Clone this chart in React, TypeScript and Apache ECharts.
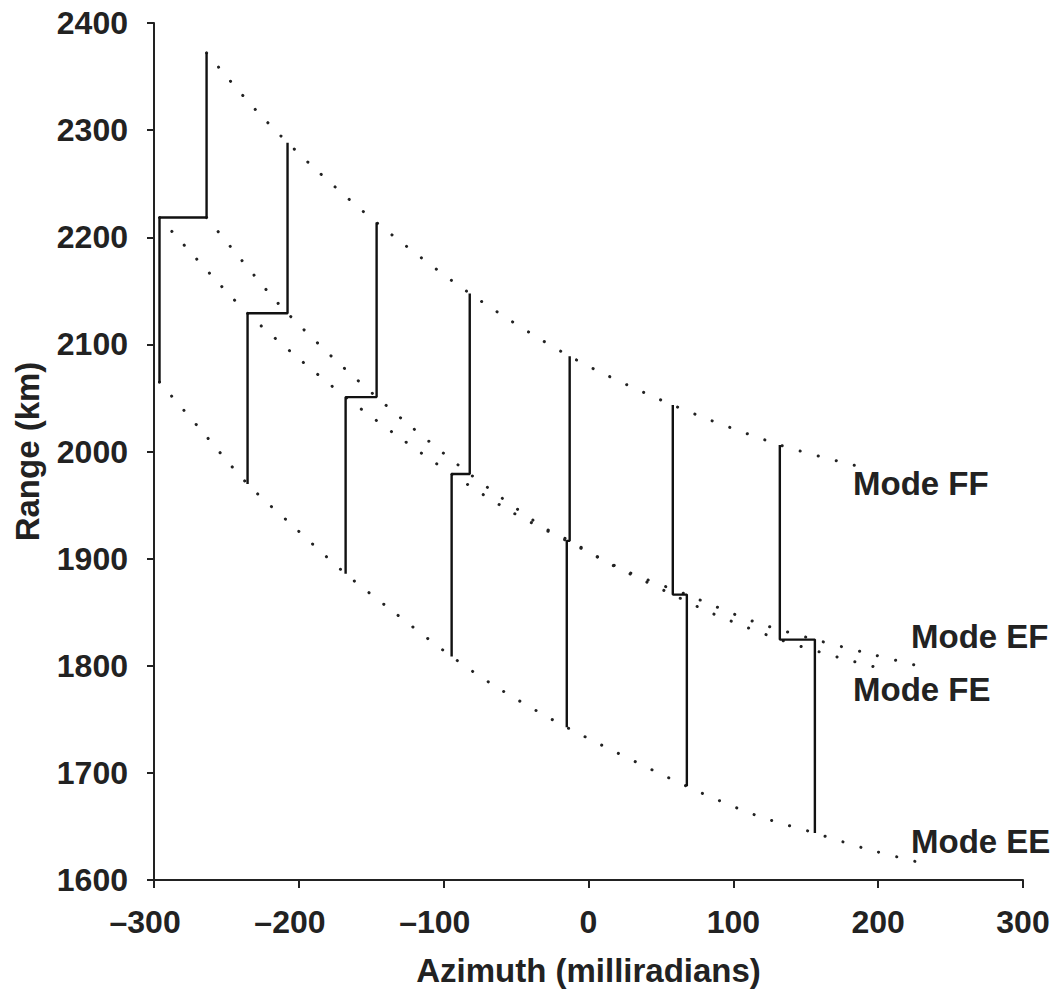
import React, { useEffect, useRef } from "react";
import * as echarts from "echarts";

// Azimuth axis ticks (milliradians) and range axis ticks (km)
const azimuthTicks = [-300, -200, -100, 0, 100, 200, 300];
const rangeTicks = [1600, 1700, 1800, 1900, 2000, 2100, 2200, 2300, 2400];

// Mode FF (dotted)
const ffAz = [-263.7, -229.2, -191.9, -146.3, -82.0, -13.0, 58.2, 132.1, 185.3];
const ffRange = [2372.1, 2318.0, 2267.8, 2213.7, 2147.6, 2088.9, 2043.3, 2006.1, 1986.5];

// Mode EF (dotted)
const efAz = [-296.2, -260.3, -235.4, -203.6, -167.7, -131.8, -94.5, -54.4, -15.0, 27.1, 67.9, 114.2, 156.3, 190.8, 229.5];
const efRange = [2218.4, 2164.4, 2129.0, 2090.8, 2050.8, 2014.4, 1979.0, 1944.6, 1916.6, 1887.8, 1866.4, 1841.2, 1824.4, 1812.3, 1799.3];

// Mode FE (dotted)
const feAz = [-263.7, -221.6, -207.8, -175.3, -146.3, -126.3, -82.0, -31.6, -13.0, 14.7, 58.2, 85.8, 132.1, 172.9, 199.1];
const feRange = [2218.4, 2149.5, 2129.0, 2086.1, 2050.8, 2027.5, 1979.0, 1929.7, 1916.6, 1895.2, 1866.4, 1848.7, 1824.4, 1807.7, 1798.4];

// Mode EE (dotted)
const eeAz = [-296.2, -269.9, -235.4, -206.4, -167.7, -136.6, -94.5, -62.0, -15.0, 67.9, 115.5, 156.3, 192.2, 230.2];
const eeRange = [2064.7, 2023.7, 1969.7, 1933.4, 1885.9, 1852.4, 1808.6, 1778.8, 1742.5, 1687.5, 1660.5, 1643.8, 1628.9, 1615.8];

// Solid staircase steps
const stepUpperAz = [-263.7, -207.8, -146.3, -82.0, -13.0, 58.2, 132.1];
const stepLowerAz = [-296.2, -235.4, -167.7, -94.5, -15.0, 67.9, 156.3];
const stepTopRange = [2372.1, 2288.2, 2213.7, 2147.6, 2088.9, 2043.3, 2006.1];
const stepMidRange = [2218.4, 2129.0, 2050.8, 1979.0, 1916.6, 1866.4, 1824.4];
const stepBottomRange = [2064.7, 1969.7, 1885.9, 1808.6, 1742.5, 1687.5, 1643.8];

const modeNames = ["Mode FF", "Mode EF", "Mode FE", "Mode EE"];

const FONT = "Liberation Sans";
const INK = "#222222";

function pairs(xs: number[], ys: number[]) {
  return xs.map((x, i) => [x, ys[i]]);
}

export default function App() {
  const ref = useRef<HTMLDivElement>(null);
  useEffect(() => {
    const chart = echarts.init(ref.current!, null, { renderer: "svg" });

    const dotted = (name: string, xs: number[], ys: number[]) => ({
      name,
      type: "line",
      data: pairs(xs, ys),
      smooth: 0.3,
      symbol: "none",
      showSymbol: false,
      silent: true,
      lineStyle: { color: INK, width: 3, type: [0.1, 18.5], cap: "round" },
      z: 2,
    });

    const steps = stepUpperAz.map((ua, i) => ({
      name: "step" + (i + 1),
      type: "line",
      data: [
        [ua, stepTopRange[i]],
        [ua, stepMidRange[i]],
        [stepLowerAz[i], stepMidRange[i]],
        [stepLowerAz[i], stepBottomRange[i]],
      ],
      symbol: "none",
      showSymbol: false,
      silent: true,
      lineStyle: { color: "#111111", width: 2.4 },
      z: 3,
    }));

    const labelPos = [
      [853, 483],
      [911, 636],
      [853, 689],
      [911, 841],
    ];

    const tickFont = { fontFamily: FONT, fontWeight: "bold", fontSize: 32, color: INK };

    const option = {
      animation: false,
      backgroundColor: "#ffffff",
      grid: { left: 154, right: 39, top: 23, bottom: 110, containLabel: false },
      xAxis: {
        type: "value",
        min: azimuthTicks[0],
        max: azimuthTicks[azimuthTicks.length - 1],
        interval: 100,
        name: "Azimuth (milliradians)",
        nameLocation: "middle",
        nameGap: 74,
        nameTextStyle: { fontFamily: FONT, fontWeight: "bold", fontSize: 33, color: INK },
        axisLine: { show: true, onZero: false, lineStyle: { color: INK, width: 2 } },
        axisTick: { show: true, length: 8, lineStyle: { color: INK, width: 2 } },
        axisLabel: {
          margin: 26,
          ...tickFont,
          // digits centred under the tick, the dash hanging to the left
          formatter: (v: number) => (v < 0 ? "\u2013" + Math.abs(v) + "\u2007" : String(v)),
        },
        splitLine: { show: false },
      },
      yAxis: {
        type: "value",
        min: rangeTicks[0],
        max: rangeTicks[rangeTicks.length - 1],
        interval: 100,
        name: "Range (km)",
        nameLocation: "middle",
        nameGap: 110,
        nameTextStyle: { fontFamily: FONT, fontWeight: "bold", fontSize: 33, color: INK },
        axisLine: { show: true, onZero: false, lineStyle: { color: INK, width: 2 } },
        axisTick: { show: true, length: 7, lineStyle: { color: INK, width: 2 } },
        axisLabel: {
          margin: 26,
          ...tickFont,
          formatter: (v: number) => String(v),
        },
        splitLine: { show: false },
      },
      series: [
        dotted(modeNames[0], ffAz, ffRange),
        dotted(modeNames[1], efAz, efRange),
        dotted(modeNames[2], feAz, feRange),
        dotted(modeNames[3], eeAz, eeRange),
        ...steps,
      ],
      graphic: modeNames.map((t, i) => ({
        type: "text",
        x: labelPos[i][0],
        y: labelPos[i][1],
        silent: true,
        style: {
          text: t,
          fontFamily: FONT,
          fontWeight: "bold",
          fontSize: 33,
          fill: INK,
          align: "left",
          verticalAlign: "middle",
        },
      })),
    };

    chart.setOption(option as any);
    return () => chart.dispose();
  }, []);

  return (
    <div
      ref={ref}
      style={{ position: "absolute", left: 0, top: 0, width: 1062, height: 992, background: "#ffffff" }}
    />
  );
}
